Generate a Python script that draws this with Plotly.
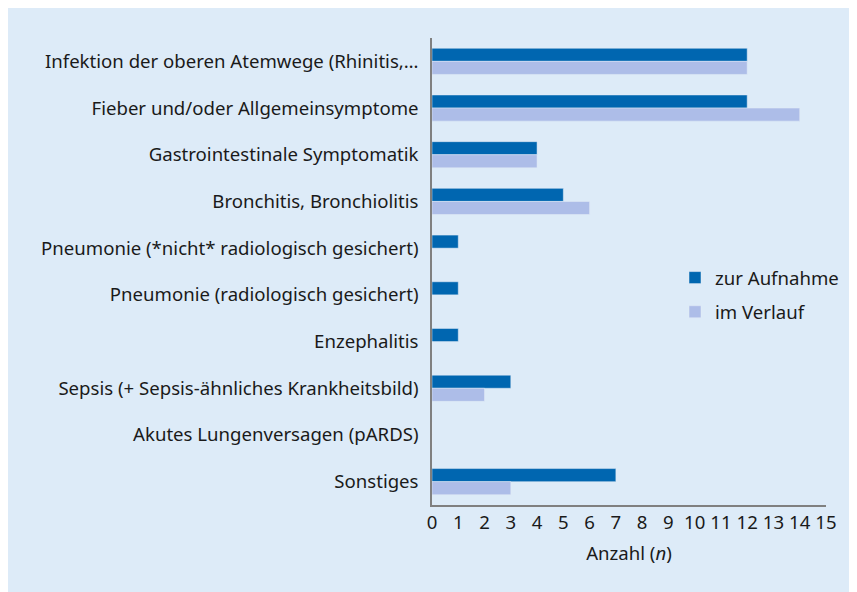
import plotly.graph_objects as go

categories = [
    "Infektion der oberen Atemwege (Rhinitis,…",
    "Fieber und/oder Allgemeinsymptome",
    "Gastrointestinale Symptomatik",
    "Bronchitis, Bronchiolitis",
    "Pneumonie (*nicht* radiologisch gesichert)",
    "Pneumonie (radiologisch gesichert)",
    "Enzephalitis",
    "Sepsis (+ Sepsis-ähnliches Krankheitsbild)",
    "Akutes Lungenversagen (pARDS)",
    "Sonstiges",
]
zur_aufnahme = [12, 12, 4, 5, 1, 1, 1, 3, 0, 7]
im_verlauf = [12, 14, 4, 6, 0, 0, 0, 2, 0, 3]
x_ticks = list(range(0, 16))

FONT = "Noto Sans"
TXT = "#1a1a1a"
FS = 18.6

fig = go.Figure()
fig.add_trace(go.Bar(y=categories, x=zur_aufnahme, orientation="h", name="zur Aufnahme",
                     marker=dict(color="#0066b0"), legendgroup="a"))
fig.add_trace(go.Bar(y=categories, x=im_verlauf, orientation="h", name="im Verlauf",
                     marker=dict(color="#adbde8"), legendgroup="b"))

# figure is placed by the page at an (8,8) offset
W, H = 857, 592
L, T = 424, 30
R = W - 818
B = H - 497
pw, ph = W - L - R, H - T - B

def px_x(p):
    return (p - L) / pw

def px_y(p):
    return (H - B - p) / ph

fig.update_layout(
    width=W, height=H,
    margin=dict(l=L, r=R, t=T, b=B, pad=0),
    paper_bgcolor="#ddebf8",
    plot_bgcolor="rgba(0,0,0,0)",
    barmode="group",
    bargap=0.44,
    bargroupgap=0,
    font=dict(family=FONT, size=FS, color=TXT),
    showlegend=True,
    legend=dict(x=px_x(667), y=px_y(251), xanchor="left", yanchor="top",
                bgcolor="rgba(0,0,0,0)", font=dict(size=FS, color=TXT),
                traceorder="grouped", tracegroupgap=7),
    xaxis=dict(range=[0, 15], tickvals=x_ticks, showgrid=False, zeroline=False,
               showline=True, linecolor="#808080", linewidth=1.5,
               ticks="", tickfont=dict(size=FS, color=TXT),
               title=dict(text="Anzahl (<i>n</i>)", font=dict(size=FS, color=TXT), standoff=14)),
    yaxis=dict(autorange="reversed", showgrid=False, zeroline=False,
               showline=True, linecolor="#808080", linewidth=1.5,
               ticks="outside", ticklen=8, tickcolor="rgba(0,0,0,0)",
               tickfont=dict(size=FS, color=TXT)),
)

fig.write_html("out.html")
